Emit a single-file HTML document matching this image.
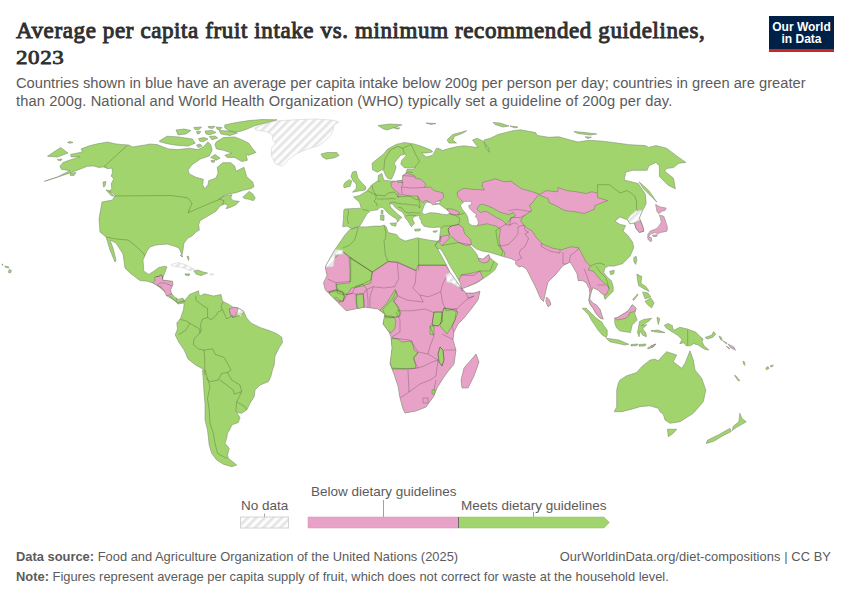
<!DOCTYPE html>
<html><head><meta charset="utf-8">
<style>
html,body{margin:0;padding:0;background:#fff;}
body{width:850px;height:600px;position:relative;overflow:hidden;font-family:"Liberation Sans",sans-serif;}
.t{position:absolute;white-space:nowrap;}
#title{left:16px;top:17.5px;font-family:"Liberation Serif",serif;font-weight:normal;font-size:23px;line-height:26px;color:#2f2f2f;-webkit-text-stroke:0.95px #2f2f2f;letter-spacing:0.61px;}
#title .yr{display:inline-block;transform:scaleY(0.8);transform-origin:0 80%;}
.sub{font-size:14.7px;line-height:17.7px;color:#5b5b5b;}
#logo{position:absolute;left:769px;top:16px;width:65px;height:33px;background:#002147;border-bottom:3px solid #ce261e;color:#fff;font-weight:bold;font-size:12px;line-height:12px;text-align:center;}
.foot{font-size:12.9px;line-height:16px;color:#5b5b5b;}
.foot b{color:#5b5b5b;}
.leg{font-size:13.5px;line-height:16px;color:#5b5b5b;}
</style></head><body>
<div class="t" id="title">Average per capita fruit intake vs. minimum recommended guidelines,<br><span class="yr">2023</span></div>
<div class="t sub" style="left:16px;top:74.7px">Countries shown in blue have an average per capita intake below 200g per person per day; countries in green are greater</div>
<div class="t sub" style="left:16px;top:92.6px;letter-spacing:0.105px">than 200g. National and World Health Organization (WHO) typically set a guideline of 200g per day.</div>
<div id="logo"><div style="padding-top:5px">Our World<br>in Data</div></div>

<svg style="position:absolute;left:0;top:0" width="850" height="600" viewBox="0 0 850 600">
<defs>
<pattern id="hatch" patternUnits="userSpaceOnUse" width="6" height="6" patternTransform="rotate(45)">
<rect width="6" height="6" fill="#fdfdfd"/><rect x="0" y="0" width="2.6" height="6" fill="#e4e4e4"/>
</pattern>
</defs>
<g id="map" stroke="#7b8a6b" stroke-width="0.5" stroke-linejoin="round">
<clipPath id="landclip"><path d="M47.5 156.2 60.6 147.5 68.0 153.0 57.5 157.0ZM67.5 142.5 70.0 141.5 73.0 142.5 70.0 143.2ZM57.5 159.5 62.0 159.0 61.0 160.6 58.0 160.3ZM70.0 173.5 76.0 172.5 74.0 175.5 70.5 175.6ZM103.0 182.0 106.0 181.5 105.0 186.0 103.5 187.0ZM106.0 190.0 109.0 190.5 114.0 196.0 111.0 195.5ZM44.4 181.3 57.5 176.9 70.0 170.5 61.5 169.4 60.0 166.2 63.0 162.5 70.0 160.0 80.0 156.9 71.2 156.9 70.6 154.4 80.0 152.5 82.5 151.9 81.2 148.8 90.0 145.6 97.5 143.8 107.5 142.1 115.0 143.8 120.0 144.4 128.8 145.0 132.5 146.9 145.0 145.0 150.0 144.0 157.0 144.6 168.4 148.9 178.2 149.6 189.5 148.2 198.0 149.6 203.7 146.8 207.9 141.8 210.7 144.6 212.1 150.3 209.3 156.0 200.8 158.8 192.0 164.7 188.0 170.0 189.3 174.0 196.0 177.3 203.3 179.3 202.7 184.7 204.7 188.7 208.0 184.7 208.7 180.7 216.0 178.0 218.0 173.3 217.3 167.3 222.7 162.7 230.7 162.7 234.7 166.0 236.0 171.3 244.0 167.3 246.7 176.7 252.7 182.0 254.0 186.7 250.7 188.7 244.0 190.0 236.0 192.7 225.3 194.7 218.7 199.3 224.0 196.0 232.0 194.7 230.7 198.0 233.3 200.7 239.3 201.3 236.0 204.7 230.7 207.3 226.0 208.7 228.0 205.3 224.7 204.0 220.0 206.0 216.0 211.3 206.7 216.7 200.0 220.7 198.7 224.7 199.3 230.0 196.0 232.0 192.0 236.0 188.0 238.0 184.0 243.0 183.0 250.0 182.0 255.0 179.0 248.0 174.0 246.0 167.0 244.0 156.0 245.0 150.0 247.0 147.0 251.0 143.0 260.0 143.8 271.2 148.8 274.4 153.8 271.2 158.8 267.5 164.4 266.2 166.9 266.9 164.4 273.8 163.1 276.9 162.5 280.0 172.5 281.2 173.0 284.4 170.6 290.0 171.2 293.0 175.0 297.5 178.8 299.4 182.5 298.0 185.0 301.2 177.5 302.5 174.4 300.6 171.9 298.8 166.2 295.6 165.6 293.0 160.0 287.5 156.2 285.0 152.5 283.0 147.5 281.2 140.0 280.6 130.0 273.0 125.0 268.0 123.0 254.0 116.0 243.0 110.0 240.0 113.0 248.0 116.0 260.0 115.0 262.0 110.0 250.0 107.0 240.0 106.0 237.0 100.0 232.0 99.0 219.0 102.0 202.0 112.5 200.0 115.0 195.6 113.1 193.1 108.8 191.2 111.9 188.8 111.2 183.8 113.8 178.8 111.2 176.2 112.5 172.5 111.9 168.1 108.0 168.8 103.8 166.9 98.8 167.5 93.8 166.0 87.5 166.2 81.0 168.8 70.0 173.0 55.0 178.0ZM242.7 197.3 249.3 191.3 252.7 194.0 255.3 198.0 253.3 200.7 249.3 199.3 245.3 198.7ZM159.2 141.1 167.0 136.2 178.2 136.9 192.4 139.0 195.2 143.2 188.1 146.1 178.2 145.4 168.4 144.0 159.9 141.8ZM176.0 130.0 184.0 129.0 191.0 130.5 186.0 134.0 178.0 134.8ZM219.0 130.5 230.0 131.0 237.5 133.0 230.0 135.5 221.0 134.0ZM193.8 127.5 201.5 127.0 199.0 129.8 195.0 129.5ZM205.0 131.0 212.0 130.5 216.0 132.5 210.0 134.8 206.0 134.0ZM208.0 126.5 215.0 126.3 213.0 128.4 209.0 128.0ZM198.7 138.5 204.0 137.6 208.0 139.0 203.0 141.8 199.5 141.0ZM196.6 145.0 200.0 144.0 202.2 146.0 198.0 147.5ZM209.3 136.5 215.0 136.0 217.8 138.0 212.0 139.7ZM216.4 141.8 223.4 137.6 234.7 136.9 241.8 139.7 248.8 143.2 251.7 147.5 255.9 152.4 248.8 155.2 246.0 154.5 247.4 160.2 241.8 161.6 234.7 157.4 227.0 157.4 224.8 155.2 231.9 153.1 223.4 150.3 216.4 148.9 215.0 144.6ZM224.8 124.9 234.7 122.8 248.8 120.6 262.0 119.5 277.0 119.8 267.0 122.6 254.5 125.8 245.9 129.6 240.0 131.4 234.7 132.0 229.0 130.5 224.8 128.0ZM210.7 157.4 215.0 154.5 220.0 158.0 216.4 160.2ZM321.0 154.0 327.0 152.5 336.8 152.5 339.0 155.5 334.5 157.8 326.2 159.2 322.5 157.0ZM185.0 273.8 190.0 274.0 189.0 275.6 185.5 275.2ZM193.8 271.0 198.0 270.0 203.0 272.0 207.5 273.0 201.0 275.6 196.0 274.0ZM180.0 255.0 183.0 256.0 182.0 257.0ZM187.0 256.0 189.0 257.0 188.5 260.6ZM9.0 269.5 11.5 270.5 10.5 273.0 8.5 272.5ZM2.0 264.0 3.0 264.3 2.5 265.5ZM5.0 266.0 9.0 267.0 8.5 268.0 5.0 267.0ZM170.0 296.0 177.5 302.8 184.2 301.2 189.5 294.5 198.5 290.8 199.2 295.2 200.0 296.0 204.5 293.8 213.5 296.0 221.0 294.5 222.5 301.2 228.5 304.2 233.0 307.2 238.2 308.0 243.5 311.0 246.5 317.8 251.0 323.0 260.0 327.5 269.0 330.5 276.5 333.5 281.8 337.2 282.5 342.5 279.5 347.0 275.0 356.0 274.2 365.0 272.5 370.0 270.8 376.7 268.3 381.7 260.0 385.0 255.0 390.0 254.2 396.7 250.0 403.3 246.7 410.0 241.7 413.3 236.7 412.5 240.0 417.5 238.3 422.5 231.7 425.0 230.0 429.2 227.5 433.3 226.7 438.3 225.0 443.3 229.2 448.3 227.5 455.0 228.3 458.3 236.7 465.0 231.7 466.7 223.3 464.2 216.7 460.0 211.7 453.3 209.2 445.0 208.3 436.7 207.5 430.0 205.0 420.0 205.0 403.3 204.2 395.0 203.3 380.0 202.5 370.0 203.8 369.5 195.5 365.0 188.0 359.0 184.2 350.0 179.0 342.5 175.2 335.0 177.5 329.0 176.8 323.0 180.5 318.5 183.5 309.5 184.2 303.0 178.0 304.0ZM351.9 228.9 347.0 226.1 342.7 226.8 343.4 219.8 343.8 210.5 344.5 209.0 361.0 208.2 361.0 207.5 359.5 202.2 353.5 197.0 359.5 195.5 367.0 191.0 371.5 185.0 376.0 182.0 378.2 180.5 378.2 175.5 381.9 173.6 383.8 180.2 391.4 181.1 396.1 181.1 402.6 180.2 402.6 175.5 405.5 173.6 406.4 171.7 407.3 168.9 413.9 168.9 415.8 167.5 409.2 167.5 404.5 167.9 400.8 164.2 401.7 160.4 406.4 155.2 404.5 154.3 400.8 155.2 397.0 159.5 394.2 163.2 396.1 167.0 395.1 170.8 393.2 175.5 391.4 179.2 387.6 178.3 385.7 175.5 383.8 170.8 381.9 169.8 377.2 172.2 372.5 169.8 372.1 163.2 379.1 157.6 383.8 153.8 387.6 149.1 396.1 144.4 404.5 142.5 413.9 143.9 421.5 146.3 430.9 150.0 432.7 151.9 427.0 153.0 421.5 152.9 426.2 157.1 432.7 155.2 436.5 148.2 440.3 149.1 442.4 150.5 448.9 148.6 456.5 146.7 464.0 145.8 471.5 146.7 478.1 147.6 472.5 140.1 477.2 138.2 482.8 141.0 488.5 147.6 489.4 152.3 485.6 147.6 483.8 140.1 490.4 138.2 497.9 134.5 512.9 130.7 520.5 129.8 535.5 132.6 537.4 135.4 548.7 137.3 558.8 136.8 571.2 140.3 578.2 142.0 588.8 140.3 603.0 141.2 617.0 143.0 629.4 144.7 645.3 145.6 648.8 147.4 655.9 145.6 666.5 148.2 677.1 156.2 685.9 162.4 678.8 163.2 673.5 167.6 666.5 168.5 664.7 171.2 673.5 178.2 675.3 188.8 668.2 185.3 659.4 176.5 659.4 165.9 655.9 162.4 648.8 165.9 647.1 170.3 633.0 170.3 625.9 172.1 624.1 180.0 631.2 181.8 638.2 183.5 645.3 194.1 646.2 203.0 645.6 205.0 642.5 210.6 639.4 218.0 640.5 220.5 643.1 227.5 643.8 231.2 639.4 232.5 636.2 228.8 634.4 223.1 630.0 223.8 627.5 220.0 620.0 216.9 615.0 221.2 620.0 224.4 625.6 225.6 623.1 231.2 627.5 235.0 632.5 241.9 633.8 247.5 630.0 256.2 622.5 263.8 620.2 264.3 614.3 266.1 608.5 266.1 605.0 267.8 603.8 272.5 607.3 277.2 611.4 280.7 613.2 286.5 613.2 291.2 609.7 294.7 605.0 299.3 603.8 294.7 601.5 293.5 598.0 290.0 595.1 288.8 592.8 287.7 591.6 291.2 590.4 295.3 589.8 299.3 592.8 302.8 596.8 305.2 600.3 309.8 602.1 315.7 603.3 319.2 599.8 318.0 595.7 313.3 593.3 308.7 589.8 304.0 588.7 300.5 589.8 293.5 589.3 288.8 586.3 283.0 582.5 280.5 578.2 280.7 577.0 273.7 572.3 265.5 570.0 262.0 568.2 263.2 563.0 265.5 557.0 273.0 548.0 282.0 546.5 288.0 543.5 301.5 540.5 298.5 536.0 288.0 531.5 279.0 527.0 270.0 525.5 268.5 522.0 266.0 519.0 267.0 515.5 264.0 516.0 261.0 513.0 259.5 509.0 258.0 503.1 256.5 489.3 252.2 483.0 251.2 476.6 249.1 471.3 244.8 469.7 245.4 475.5 252.2 477.1 254.9 478.2 258.1 483.0 259.1 486.1 256.5 488.8 254.4 489.8 257.5 493.5 260.7 497.8 263.9 494.6 270.2 489.3 274.5 483.0 278.7 476.6 283.0 469.2 286.1 461.8 288.8 460.2 282.9 455.4 274.5 450.1 266.0 446.9 259.7 442.7 252.2 440.0 248.5 437.9 249.1 435.3 245.4 438.0 241.1 439.5 239.2 439.9 234.5 440.9 228.9 439.9 227.0 433.3 227.5 427.7 227.0 423.9 226.1 421.6 223.2 421.1 220.4 419.2 217.6 420.2 215.2 418.3 215.7 413.6 216.6 412.6 219.5 414.5 223.2 411.3 226.8 409.1 223.1 407.5 220.4 405.4 218.3 404.3 215.1 402.2 211.9 399.0 210.3 395.3 207.6 392.6 203.9 391.0 203.9 389.4 204.4 391.0 207.6 394.2 210.8 397.4 214.0 401.7 217.2 401.1 218.3 398.5 218.3 399.5 219.9 398.5 220.9 396.9 222.5 397.4 220.4 396.3 218.8 393.7 217.2 390.5 215.1 387.3 212.4 384.6 209.2 383.0 207.6 380.3 207.3 377.3 209.9 371.0 210.6 366.7 214.1 363.9 219.1 359.7 226.1ZM352.5 172.0 356.2 171.2 357.8 178.0 361.5 182.5 366.0 187.0 365.2 190.0 360.0 190.8 352.5 192.2 356.2 188.5 356.2 184.0 353.2 181.0 351.0 176.5ZM345.0 182.5 349.5 179.5 351.8 181.0 350.2 186.2 344.2 187.8 343.5 185.5ZM378.0 125.5 390.0 124.0 402.0 124.8 396.0 127.0 387.0 130.0 382.5 128.5ZM393.8 127.8 399.8 128.0 398.0 129.2ZM447.0 140.1 452.7 134.5 466.8 130.7 462.1 133.5 454.6 136.3 452.7 140.1 456.5 143.0 449.0 143.0ZM493.0 122.5 500.0 123.0 509.0 126.0 503.0 127.0 495.0 124.5ZM510.0 126.0 518.0 127.0 515.0 128.0ZM426.0 123.0 436.0 123.5 431.0 124.5ZM573.8 131.5 585.0 132.5 596.8 134.0 590.0 135.0 578.0 133.5ZM585.0 136.8 591.5 137.2 588.0 138.5ZM639.1 181.8 648.8 190.6 656.8 202.0 652.4 197.7 643.5 188.8ZM380.5 215.0 384.0 215.2 384.0 220.4 380.6 220.0ZM381.2 210.3 383.0 210.5 382.8 214.0 381.0 213.6ZM390.0 223.2 396.3 223.0 395.8 226.3 391.5 225.3ZM414.7 229.2 420.4 228.9 420.0 230.8 415.0 231.1ZM433.0 231.0 437.5 230.8 436.0 232.2 433.5 232.2ZM633.8 257.5 636.2 256.2 636.9 260.6 635.6 264.4 633.8 261.2ZM609.7 271.3 614.3 270.2 613.8 273.7 610.8 274.8ZM435.3 245.4 438.0 241.1 436.2 241.1 429.6 240.2 424.0 239.2 417.4 237.8 405.1 241.1 399.5 238.3 396.6 234.5 388.2 232.6 386.3 227.0 384.4 225.1 380.6 226.1 375.0 226.1 365.5 227.0 358.5 226.8 349.8 229.4 344.5 235.5 341.0 240.8 334.9 249.5 327.0 263.5 325.2 267.0 327.0 275.8 323.5 282.8 325.2 289.8 330.5 295.0 334.0 298.5 339.2 303.8 346.2 310.8 355.0 309.0 365.5 307.2 377.8 309.0 384.8 314.2 383.0 324.0 389.0 332.0 391.0 337.0 392.0 348.0 390.0 364.0 394.0 374.0 398.0 386.0 400.0 398.0 403.0 409.0 405.0 413.0 416.0 411.0 426.0 407.0 434.0 396.0 437.0 388.0 442.0 380.0 446.0 374.0 454.0 364.0 456.0 350.0 453.0 340.0 454.0 332.0 458.0 324.0 464.0 318.0 472.0 308.0 478.0 300.0 480.0 291.2 474.0 293.0 466.0 293.0 460.7 287.2 455.4 279.8 450.1 272.4 445.9 263.9 441.6 256.0 438.0 249.6ZM582.2 308.3 586.3 308.3 591.3 313.3 595.5 317.5 602.2 322.5 603.8 325.8 607.2 330.0 607.2 335.0 606.3 337.5 602.2 335.0 598.0 330.0 594.7 325.0 591.3 320.0 588.8 315.0 584.7 310.8ZM606.3 338.3 613.0 339.2 618.8 340.0 624.7 342.5 628.8 344.2 624.7 345.0 617.2 343.3 609.7 341.7ZM631.0 344.5 638.0 344.0 637.0 345.5 631.0 346.0ZM639.0 344.5 646.0 344.0 645.0 346.0 639.0 346.2ZM647.5 348.0 652.0 345.5 655.8 344.0 653.0 347.0 648.0 349.0ZM614.7 317.9 617.2 317.5 621.3 315.0 625.5 312.5 628.8 310.0 632.2 304.6 636.3 308.3 634.7 313.3 637.2 320.0 632.2 325.0 630.5 332.5 624.7 331.7 619.7 330.8 616.3 327.5 614.7 322.5ZM638.0 330.0 639.5 321.5 643.8 319.4 651.7 318.3 649.1 321.0 641.6 325.7 646.9 324.6 642.7 328.9 645.9 333.1 646.4 336.8 642.7 335.2 640.1 331.0 639.0 336.8 637.4 332.1ZM657.0 317.2 659.7 318.5 658.5 324.6 657.5 321.0ZM636.8 274.1 641.8 276.6 640.9 283.2 645.9 286.5 649.2 291.4 644.2 288.9 638.5 285.6 637.6 279.9ZM645.0 301.3 650.8 298.0 654.1 302.9 651.6 307.9 647.5 304.6ZM642.6 292.0 648.0 293.0 650.8 297.0 645.0 298.8ZM632.7 299.6 637.6 293.9 638.0 295.0 633.5 300.5ZM664.4 325.2 668.1 323.6 672.4 325.7 672.9 328.9 674.5 330.0 679.8 327.3 687.2 328.9 695.7 332.1 699.9 336.3 703.1 339.0 702.0 341.6 704.1 345.8 708.9 350.1 704.1 349.0 697.8 344.8 693.5 343.7 690.4 345.8 686.1 345.8 684.0 342.7 679.8 343.7 681.9 339.5 677.7 335.2 672.4 332.1 669.2 329.9 666.0 327.8ZM705.2 337.4 711.5 335.2 713.7 331.5 715.8 334.2 712.6 337.4 707.3 339.0ZM719.0 336.0 721.0 337.0 722.5 340.6 720.5 339.5ZM620.0 380.0 626.7 375.8 636.7 372.5 641.7 366.7 650.0 360.0 655.0 359.2 658.3 360.8 663.3 355.0 666.7 351.7 676.7 355.0 673.3 361.7 681.7 368.3 685.0 363.3 690.0 350.8 693.3 360.0 695.0 370.0 701.7 378.3 705.8 390.0 703.3 401.7 693.3 413.3 680.0 421.7 670.0 423.3 665.0 420.0 663.3 414.2 660.0 411.7 658.3 408.3 650.0 405.8 640.0 406.7 631.7 409.2 621.7 411.7 614.2 411.7 616.7 406.7 616.7 398.3 616.7 390.0 618.3 383.3ZM667.5 429.2 676.7 429.2 673.3 433.3 668.3 436.7ZM739.8 413.2 742.0 418.6 746.3 421.8 736.6 427.3 732.3 430.5 733.3 426.2 738.8 421.8 739.4 417.5ZM730.0 428.4 731.2 431.6 722.5 435.9 713.8 441.3 706.3 443.5 707.3 440.3 718.2 434.9 727.9 429.4ZM734.4 375.3 736.0 376.0 739.8 380.7 738.0 380.5ZM743.0 361.0 744.5 362.0 745.0 365.5 743.5 364.0ZM765.8 368.0 768.0 366.5 769.0 368.5 766.5 369.8ZM770.0 366.0 773.4 365.0 772.0 367.0ZM196.6 131.2 200.8 131.5 199.0 134.0 197.0 133.5ZM216.4 127.0 222.0 127.5 220.0 129.8 217.0 129.2ZM211.0 160.5 215.0 160.5 214.0 162.5 211.5 162.0ZM653.3 330.5 658.0 330.0 665.0 332.6 660.0 332.4 654.0 331.8ZM651.0 330.5 653.0 330.2 652.5 332.0ZM229.2 308.8 234.5 307.2 238.2 308.0 237.5 311.0 233.8 317.8 231.5 316.2 230.0 313.2ZM655.6 204.4 660.0 206.9 666.2 208.1 665.0 210.6 661.9 211.2 658.8 213.8 656.9 211.2 656.2 207.5ZM659.4 215.0 663.8 216.2 665.6 221.2 667.5 227.5 666.9 231.2 663.8 231.9 660.6 232.5 657.5 233.8 655.0 232.5 651.2 233.8 648.8 236.2 647.5 235.0 650.0 231.2 656.2 228.8 658.8 226.2 661.2 222.5 660.6 218.8ZM647.5 236.2 651.2 237.5 651.9 240.6 650.6 241.9 648.1 239.4ZM546.5 297.0 549.5 300.0 551.0 304.5 548.0 306.8 545.8 301.5ZM476.0 354.0 479.0 362.0 474.0 376.0 468.0 388.0 462.0 388.0 461.0 380.0 464.0 368.0 471.0 360.0ZM651.0 346.0 655.8 344.0 653.5 346.8 651.5 347.5ZM723.0 341.0 727.0 343.0 726.5 344.0ZM728.0 344.0 734.0 347.0 735.5 350.3 731.0 348.0ZM726.0 346.0 730.0 348.5 729.0 349.0ZM634.4 223.1 640.5 220.5 643.1 227.5 643.8 231.2 639.4 232.5 636.2 228.8ZM652.5 235.2 657.5 234.8 656.5 236.5 653.0 236.4Z"/></clipPath>
<path fill="#a1d46c" stroke="none" d="M47.5 156.2 60.6 147.5 68.0 153.0 57.5 157.0ZM67.5 142.5 70.0 141.5 73.0 142.5 70.0 143.2ZM57.5 159.5 62.0 159.0 61.0 160.6 58.0 160.3ZM70.0 173.5 76.0 172.5 74.0 175.5 70.5 175.6ZM103.0 182.0 106.0 181.5 105.0 186.0 103.5 187.0ZM106.0 190.0 109.0 190.5 114.0 196.0 111.0 195.5ZM44.4 181.3 57.5 176.9 70.0 170.5 61.5 169.4 60.0 166.2 63.0 162.5 70.0 160.0 80.0 156.9 71.2 156.9 70.6 154.4 80.0 152.5 82.5 151.9 81.2 148.8 90.0 145.6 97.5 143.8 107.5 142.1 115.0 143.8 120.0 144.4 128.8 145.0 132.5 146.9 145.0 145.0 150.0 144.0 157.0 144.6 168.4 148.9 178.2 149.6 189.5 148.2 198.0 149.6 203.7 146.8 207.9 141.8 210.7 144.6 212.1 150.3 209.3 156.0 200.8 158.8 192.0 164.7 188.0 170.0 189.3 174.0 196.0 177.3 203.3 179.3 202.7 184.7 204.7 188.7 208.0 184.7 208.7 180.7 216.0 178.0 218.0 173.3 217.3 167.3 222.7 162.7 230.7 162.7 234.7 166.0 236.0 171.3 244.0 167.3 246.7 176.7 252.7 182.0 254.0 186.7 250.7 188.7 244.0 190.0 236.0 192.7 225.3 194.7 218.7 199.3 224.0 196.0 232.0 194.7 230.7 198.0 233.3 200.7 239.3 201.3 236.0 204.7 230.7 207.3 226.0 208.7 228.0 205.3 224.7 204.0 220.0 206.0 216.0 211.3 206.7 216.7 200.0 220.7 198.7 224.7 199.3 230.0 196.0 232.0 192.0 236.0 188.0 238.0 184.0 243.0 183.0 250.0 182.0 255.0 179.0 248.0 174.0 246.0 167.0 244.0 156.0 245.0 150.0 247.0 147.0 251.0 143.0 260.0 143.8 271.2 148.8 274.4 153.8 271.2 158.8 267.5 164.4 266.2 166.9 266.9 164.4 273.8 163.1 276.9 162.5 280.0 172.5 281.2 173.0 284.4 170.6 290.0 171.2 293.0 175.0 297.5 178.8 299.4 182.5 298.0 185.0 301.2 177.5 302.5 174.4 300.6 171.9 298.8 166.2 295.6 165.6 293.0 160.0 287.5 156.2 285.0 152.5 283.0 147.5 281.2 140.0 280.6 130.0 273.0 125.0 268.0 123.0 254.0 116.0 243.0 110.0 240.0 113.0 248.0 116.0 260.0 115.0 262.0 110.0 250.0 107.0 240.0 106.0 237.0 100.0 232.0 99.0 219.0 102.0 202.0 112.5 200.0 115.0 195.6 113.1 193.1 108.8 191.2 111.9 188.8 111.2 183.8 113.8 178.8 111.2 176.2 112.5 172.5 111.9 168.1 108.0 168.8 103.8 166.9 98.8 167.5 93.8 166.0 87.5 166.2 81.0 168.8 70.0 173.0 55.0 178.0ZM242.7 197.3 249.3 191.3 252.7 194.0 255.3 198.0 253.3 200.7 249.3 199.3 245.3 198.7ZM159.2 141.1 167.0 136.2 178.2 136.9 192.4 139.0 195.2 143.2 188.1 146.1 178.2 145.4 168.4 144.0 159.9 141.8ZM176.0 130.0 184.0 129.0 191.0 130.5 186.0 134.0 178.0 134.8ZM219.0 130.5 230.0 131.0 237.5 133.0 230.0 135.5 221.0 134.0ZM193.8 127.5 201.5 127.0 199.0 129.8 195.0 129.5ZM205.0 131.0 212.0 130.5 216.0 132.5 210.0 134.8 206.0 134.0ZM208.0 126.5 215.0 126.3 213.0 128.4 209.0 128.0ZM198.7 138.5 204.0 137.6 208.0 139.0 203.0 141.8 199.5 141.0ZM196.6 145.0 200.0 144.0 202.2 146.0 198.0 147.5ZM209.3 136.5 215.0 136.0 217.8 138.0 212.0 139.7ZM216.4 141.8 223.4 137.6 234.7 136.9 241.8 139.7 248.8 143.2 251.7 147.5 255.9 152.4 248.8 155.2 246.0 154.5 247.4 160.2 241.8 161.6 234.7 157.4 227.0 157.4 224.8 155.2 231.9 153.1 223.4 150.3 216.4 148.9 215.0 144.6ZM224.8 124.9 234.7 122.8 248.8 120.6 262.0 119.5 277.0 119.8 267.0 122.6 254.5 125.8 245.9 129.6 240.0 131.4 234.7 132.0 229.0 130.5 224.8 128.0ZM210.7 157.4 215.0 154.5 220.0 158.0 216.4 160.2ZM321.0 154.0 327.0 152.5 336.8 152.5 339.0 155.5 334.5 157.8 326.2 159.2 322.5 157.0ZM185.0 273.8 190.0 274.0 189.0 275.6 185.5 275.2ZM193.8 271.0 198.0 270.0 203.0 272.0 207.5 273.0 201.0 275.6 196.0 274.0ZM180.0 255.0 183.0 256.0 182.0 257.0ZM187.0 256.0 189.0 257.0 188.5 260.6ZM9.0 269.5 11.5 270.5 10.5 273.0 8.5 272.5ZM2.0 264.0 3.0 264.3 2.5 265.5ZM5.0 266.0 9.0 267.0 8.5 268.0 5.0 267.0ZM170.0 296.0 177.5 302.8 184.2 301.2 189.5 294.5 198.5 290.8 199.2 295.2 200.0 296.0 204.5 293.8 213.5 296.0 221.0 294.5 222.5 301.2 228.5 304.2 233.0 307.2 238.2 308.0 243.5 311.0 246.5 317.8 251.0 323.0 260.0 327.5 269.0 330.5 276.5 333.5 281.8 337.2 282.5 342.5 279.5 347.0 275.0 356.0 274.2 365.0 272.5 370.0 270.8 376.7 268.3 381.7 260.0 385.0 255.0 390.0 254.2 396.7 250.0 403.3 246.7 410.0 241.7 413.3 236.7 412.5 240.0 417.5 238.3 422.5 231.7 425.0 230.0 429.2 227.5 433.3 226.7 438.3 225.0 443.3 229.2 448.3 227.5 455.0 228.3 458.3 236.7 465.0 231.7 466.7 223.3 464.2 216.7 460.0 211.7 453.3 209.2 445.0 208.3 436.7 207.5 430.0 205.0 420.0 205.0 403.3 204.2 395.0 203.3 380.0 202.5 370.0 203.8 369.5 195.5 365.0 188.0 359.0 184.2 350.0 179.0 342.5 175.2 335.0 177.5 329.0 176.8 323.0 180.5 318.5 183.5 309.5 184.2 303.0 178.0 304.0ZM351.9 228.9 347.0 226.1 342.7 226.8 343.4 219.8 343.8 210.5 344.5 209.0 361.0 208.2 361.0 207.5 359.5 202.2 353.5 197.0 359.5 195.5 367.0 191.0 371.5 185.0 376.0 182.0 378.2 180.5 378.2 175.5 381.9 173.6 383.8 180.2 391.4 181.1 396.1 181.1 402.6 180.2 402.6 175.5 405.5 173.6 406.4 171.7 407.3 168.9 413.9 168.9 415.8 167.5 409.2 167.5 404.5 167.9 400.8 164.2 401.7 160.4 406.4 155.2 404.5 154.3 400.8 155.2 397.0 159.5 394.2 163.2 396.1 167.0 395.1 170.8 393.2 175.5 391.4 179.2 387.6 178.3 385.7 175.5 383.8 170.8 381.9 169.8 377.2 172.2 372.5 169.8 372.1 163.2 379.1 157.6 383.8 153.8 387.6 149.1 396.1 144.4 404.5 142.5 413.9 143.9 421.5 146.3 430.9 150.0 432.7 151.9 427.0 153.0 421.5 152.9 426.2 157.1 432.7 155.2 436.5 148.2 440.3 149.1 442.4 150.5 448.9 148.6 456.5 146.7 464.0 145.8 471.5 146.7 478.1 147.6 472.5 140.1 477.2 138.2 482.8 141.0 488.5 147.6 489.4 152.3 485.6 147.6 483.8 140.1 490.4 138.2 497.9 134.5 512.9 130.7 520.5 129.8 535.5 132.6 537.4 135.4 548.7 137.3 558.8 136.8 571.2 140.3 578.2 142.0 588.8 140.3 603.0 141.2 617.0 143.0 629.4 144.7 645.3 145.6 648.8 147.4 655.9 145.6 666.5 148.2 677.1 156.2 685.9 162.4 678.8 163.2 673.5 167.6 666.5 168.5 664.7 171.2 673.5 178.2 675.3 188.8 668.2 185.3 659.4 176.5 659.4 165.9 655.9 162.4 648.8 165.9 647.1 170.3 633.0 170.3 625.9 172.1 624.1 180.0 631.2 181.8 638.2 183.5 645.3 194.1 646.2 203.0 645.6 205.0 642.5 210.6 639.4 218.0 640.5 220.5 643.1 227.5 643.8 231.2 639.4 232.5 636.2 228.8 634.4 223.1 630.0 223.8 627.5 220.0 620.0 216.9 615.0 221.2 620.0 224.4 625.6 225.6 623.1 231.2 627.5 235.0 632.5 241.9 633.8 247.5 630.0 256.2 622.5 263.8 620.2 264.3 614.3 266.1 608.5 266.1 605.0 267.8 603.8 272.5 607.3 277.2 611.4 280.7 613.2 286.5 613.2 291.2 609.7 294.7 605.0 299.3 603.8 294.7 601.5 293.5 598.0 290.0 595.1 288.8 592.8 287.7 591.6 291.2 590.4 295.3 589.8 299.3 592.8 302.8 596.8 305.2 600.3 309.8 602.1 315.7 603.3 319.2 599.8 318.0 595.7 313.3 593.3 308.7 589.8 304.0 588.7 300.5 589.8 293.5 589.3 288.8 586.3 283.0 582.5 280.5 578.2 280.7 577.0 273.7 572.3 265.5 570.0 262.0 568.2 263.2 563.0 265.5 557.0 273.0 548.0 282.0 546.5 288.0 543.5 301.5 540.5 298.5 536.0 288.0 531.5 279.0 527.0 270.0 525.5 268.5 522.0 266.0 519.0 267.0 515.5 264.0 516.0 261.0 513.0 259.5 509.0 258.0 503.1 256.5 489.3 252.2 483.0 251.2 476.6 249.1 471.3 244.8 469.7 245.4 475.5 252.2 477.1 254.9 478.2 258.1 483.0 259.1 486.1 256.5 488.8 254.4 489.8 257.5 493.5 260.7 497.8 263.9 494.6 270.2 489.3 274.5 483.0 278.7 476.6 283.0 469.2 286.1 461.8 288.8 460.2 282.9 455.4 274.5 450.1 266.0 446.9 259.7 442.7 252.2 440.0 248.5 437.9 249.1 435.3 245.4 438.0 241.1 439.5 239.2 439.9 234.5 440.9 228.9 439.9 227.0 433.3 227.5 427.7 227.0 423.9 226.1 421.6 223.2 421.1 220.4 419.2 217.6 420.2 215.2 418.3 215.7 413.6 216.6 412.6 219.5 414.5 223.2 411.3 226.8 409.1 223.1 407.5 220.4 405.4 218.3 404.3 215.1 402.2 211.9 399.0 210.3 395.3 207.6 392.6 203.9 391.0 203.9 389.4 204.4 391.0 207.6 394.2 210.8 397.4 214.0 401.7 217.2 401.1 218.3 398.5 218.3 399.5 219.9 398.5 220.9 396.9 222.5 397.4 220.4 396.3 218.8 393.7 217.2 390.5 215.1 387.3 212.4 384.6 209.2 383.0 207.6 380.3 207.3 377.3 209.9 371.0 210.6 366.7 214.1 363.9 219.1 359.7 226.1ZM352.5 172.0 356.2 171.2 357.8 178.0 361.5 182.5 366.0 187.0 365.2 190.0 360.0 190.8 352.5 192.2 356.2 188.5 356.2 184.0 353.2 181.0 351.0 176.5ZM345.0 182.5 349.5 179.5 351.8 181.0 350.2 186.2 344.2 187.8 343.5 185.5ZM378.0 125.5 390.0 124.0 402.0 124.8 396.0 127.0 387.0 130.0 382.5 128.5ZM393.8 127.8 399.8 128.0 398.0 129.2ZM447.0 140.1 452.7 134.5 466.8 130.7 462.1 133.5 454.6 136.3 452.7 140.1 456.5 143.0 449.0 143.0ZM493.0 122.5 500.0 123.0 509.0 126.0 503.0 127.0 495.0 124.5ZM510.0 126.0 518.0 127.0 515.0 128.0ZM426.0 123.0 436.0 123.5 431.0 124.5ZM573.8 131.5 585.0 132.5 596.8 134.0 590.0 135.0 578.0 133.5ZM585.0 136.8 591.5 137.2 588.0 138.5ZM639.1 181.8 648.8 190.6 656.8 202.0 652.4 197.7 643.5 188.8ZM380.5 215.0 384.0 215.2 384.0 220.4 380.6 220.0ZM381.2 210.3 383.0 210.5 382.8 214.0 381.0 213.6ZM390.0 223.2 396.3 223.0 395.8 226.3 391.5 225.3ZM414.7 229.2 420.4 228.9 420.0 230.8 415.0 231.1ZM433.0 231.0 437.5 230.8 436.0 232.2 433.5 232.2ZM633.8 257.5 636.2 256.2 636.9 260.6 635.6 264.4 633.8 261.2ZM609.7 271.3 614.3 270.2 613.8 273.7 610.8 274.8ZM435.3 245.4 438.0 241.1 436.2 241.1 429.6 240.2 424.0 239.2 417.4 237.8 405.1 241.1 399.5 238.3 396.6 234.5 388.2 232.6 386.3 227.0 384.4 225.1 380.6 226.1 375.0 226.1 365.5 227.0 358.5 226.8 349.8 229.4 344.5 235.5 341.0 240.8 334.9 249.5 327.0 263.5 325.2 267.0 327.0 275.8 323.5 282.8 325.2 289.8 330.5 295.0 334.0 298.5 339.2 303.8 346.2 310.8 355.0 309.0 365.5 307.2 377.8 309.0 384.8 314.2 383.0 324.0 389.0 332.0 391.0 337.0 392.0 348.0 390.0 364.0 394.0 374.0 398.0 386.0 400.0 398.0 403.0 409.0 405.0 413.0 416.0 411.0 426.0 407.0 434.0 396.0 437.0 388.0 442.0 380.0 446.0 374.0 454.0 364.0 456.0 350.0 453.0 340.0 454.0 332.0 458.0 324.0 464.0 318.0 472.0 308.0 478.0 300.0 480.0 291.2 474.0 293.0 466.0 293.0 460.7 287.2 455.4 279.8 450.1 272.4 445.9 263.9 441.6 256.0 438.0 249.6ZM582.2 308.3 586.3 308.3 591.3 313.3 595.5 317.5 602.2 322.5 603.8 325.8 607.2 330.0 607.2 335.0 606.3 337.5 602.2 335.0 598.0 330.0 594.7 325.0 591.3 320.0 588.8 315.0 584.7 310.8ZM606.3 338.3 613.0 339.2 618.8 340.0 624.7 342.5 628.8 344.2 624.7 345.0 617.2 343.3 609.7 341.7ZM631.0 344.5 638.0 344.0 637.0 345.5 631.0 346.0ZM639.0 344.5 646.0 344.0 645.0 346.0 639.0 346.2ZM647.5 348.0 652.0 345.5 655.8 344.0 653.0 347.0 648.0 349.0ZM614.7 317.9 617.2 317.5 621.3 315.0 625.5 312.5 628.8 310.0 632.2 304.6 636.3 308.3 634.7 313.3 637.2 320.0 632.2 325.0 630.5 332.5 624.7 331.7 619.7 330.8 616.3 327.5 614.7 322.5ZM638.0 330.0 639.5 321.5 643.8 319.4 651.7 318.3 649.1 321.0 641.6 325.7 646.9 324.6 642.7 328.9 645.9 333.1 646.4 336.8 642.7 335.2 640.1 331.0 639.0 336.8 637.4 332.1ZM657.0 317.2 659.7 318.5 658.5 324.6 657.5 321.0ZM636.8 274.1 641.8 276.6 640.9 283.2 645.9 286.5 649.2 291.4 644.2 288.9 638.5 285.6 637.6 279.9ZM645.0 301.3 650.8 298.0 654.1 302.9 651.6 307.9 647.5 304.6ZM642.6 292.0 648.0 293.0 650.8 297.0 645.0 298.8ZM632.7 299.6 637.6 293.9 638.0 295.0 633.5 300.5ZM664.4 325.2 668.1 323.6 672.4 325.7 672.9 328.9 674.5 330.0 679.8 327.3 687.2 328.9 695.7 332.1 699.9 336.3 703.1 339.0 702.0 341.6 704.1 345.8 708.9 350.1 704.1 349.0 697.8 344.8 693.5 343.7 690.4 345.8 686.1 345.8 684.0 342.7 679.8 343.7 681.9 339.5 677.7 335.2 672.4 332.1 669.2 329.9 666.0 327.8ZM705.2 337.4 711.5 335.2 713.7 331.5 715.8 334.2 712.6 337.4 707.3 339.0ZM719.0 336.0 721.0 337.0 722.5 340.6 720.5 339.5ZM620.0 380.0 626.7 375.8 636.7 372.5 641.7 366.7 650.0 360.0 655.0 359.2 658.3 360.8 663.3 355.0 666.7 351.7 676.7 355.0 673.3 361.7 681.7 368.3 685.0 363.3 690.0 350.8 693.3 360.0 695.0 370.0 701.7 378.3 705.8 390.0 703.3 401.7 693.3 413.3 680.0 421.7 670.0 423.3 665.0 420.0 663.3 414.2 660.0 411.7 658.3 408.3 650.0 405.8 640.0 406.7 631.7 409.2 621.7 411.7 614.2 411.7 616.7 406.7 616.7 398.3 616.7 390.0 618.3 383.3ZM667.5 429.2 676.7 429.2 673.3 433.3 668.3 436.7ZM739.8 413.2 742.0 418.6 746.3 421.8 736.6 427.3 732.3 430.5 733.3 426.2 738.8 421.8 739.4 417.5ZM730.0 428.4 731.2 431.6 722.5 435.9 713.8 441.3 706.3 443.5 707.3 440.3 718.2 434.9 727.9 429.4ZM734.4 375.3 736.0 376.0 739.8 380.7 738.0 380.5ZM743.0 361.0 744.5 362.0 745.0 365.5 743.5 364.0ZM765.8 368.0 768.0 366.5 769.0 368.5 766.5 369.8ZM770.0 366.0 773.4 365.0 772.0 367.0ZM196.6 131.2 200.8 131.5 199.0 134.0 197.0 133.5ZM216.4 127.0 222.0 127.5 220.0 129.8 217.0 129.2ZM211.0 160.5 215.0 160.5 214.0 162.5 211.5 162.0ZM653.3 330.5 658.0 330.0 665.0 332.6 660.0 332.4 654.0 331.8ZM651.0 330.5 653.0 330.2 652.5 332.0Z"/>
<path fill="#e8a2c7" stroke="none" d="M229.2 308.8 234.5 307.2 238.2 308.0 237.5 311.0 233.8 317.8 231.5 316.2 230.0 313.2ZM655.6 204.4 660.0 206.9 666.2 208.1 665.0 210.6 661.9 211.2 658.8 213.8 656.9 211.2 656.2 207.5ZM659.4 215.0 663.8 216.2 665.6 221.2 667.5 227.5 666.9 231.2 663.8 231.9 660.6 232.5 657.5 233.8 655.0 232.5 651.2 233.8 648.8 236.2 647.5 235.0 650.0 231.2 656.2 228.8 658.8 226.2 661.2 222.5 660.6 218.8ZM647.5 236.2 651.2 237.5 651.9 240.6 650.6 241.9 648.1 239.4ZM546.5 297.0 549.5 300.0 551.0 304.5 548.0 306.8 545.8 301.5ZM476.0 354.0 479.0 362.0 474.0 376.0 468.0 388.0 462.0 388.0 461.0 380.0 464.0 368.0 471.0 360.0ZM651.0 346.0 655.8 344.0 653.5 346.8 651.5 347.5ZM723.0 341.0 727.0 343.0 726.5 344.0ZM728.0 344.0 734.0 347.0 735.5 350.3 731.0 348.0ZM726.0 346.0 730.0 348.5 729.0 349.0ZM634.4 223.1 640.5 220.5 643.1 227.5 643.8 231.2 639.4 232.5 636.2 228.8ZM652.5 235.2 657.5 234.8 656.5 236.5 653.0 236.4Z"/>
<path fill="#e8a2c7" stroke="#000" stroke-opacity="0.4" stroke-width="0.5" clip-path="url(#landclip)" d="M155.6 276.9 159.4 276.2 160.6 275.0 162.5 276.2 162.5 280.0 172.5 281.2 175.0 283.0 172.0 290.0 172.0 294.0 166.2 296.0 163.8 290.0 160.6 286.9 156.9 285.6 152.5 283.0 155.0 280.6 154.4 277.5ZM390.9 182.8 396.2 180.6 401.5 180.1 403.6 173.8 406.8 173.2 412.1 174.8 415.2 176.4 414.7 178.0 420.5 179.1 424.8 182.8 425.8 185.4 423.7 187.5 430.1 187.0 434.3 190.7 442.8 192.8 443.8 197.1 440.7 200.2 437.5 201.3 435.4 204.5 432.2 206.6 431.1 202.9 425.8 200.2 422.7 202.4 419.5 199.2 417.4 196.0 410.0 196.0 401.5 194.4 397.8 197.1 397.2 194.9 399.4 193.9 394.0 189.7 391.4 186.5ZM447.0 208.7 452.0 209.0 457.0 211.0 460.0 213.0 457.0 215.0 450.0 214.0ZM457.4 191.8 463.8 188.2 473.2 189.4 484.4 190.0 482.1 186.5 482.6 182.4 495.6 178.8 503.8 181.8 510.9 181.2 521.5 188.8 528.5 190.6 539.1 194.1 535.3 198.8 531.8 203.5 529.4 205.3 531.8 210.6 524.7 215.3 522.4 217.6 520.6 221.2 527.1 228.2 531.8 230.6 536.0 237.0 542.0 243.8 552.5 248.2 561.5 249.8 570.5 246.8 578.0 247.5 581.0 252.0 585.5 261.0 590.4 266.1 588.0 270.0 593.3 271.0 599.2 278.3 603.8 283.0 607.3 285.3 609.1 288.8 606.2 294.7 602.7 295.3 606.0 299.0 606.0 321.0 603.3 319.2 599.8 318.0 595.7 313.3 593.3 308.7 589.8 304.0 588.7 300.5 580.0 292.0 560.0 300.0 540.0 312.0 520.0 275.0 505.0 262.0 503.5 258.0 505.0 253.0 500.5 247.0 499.0 239.5 500.5 229.0 496.0 226.0 487.0 223.8 475.0 226.0 472.0 215.0 463.0 202.0 461.5 200.6 457.4 195.9ZM539.4 194.7 545.9 190.6 557.6 191.8 558.2 187.6 567.1 190.6 576.5 191.8 585.9 193.5 591.8 191.8 597.1 192.9 597.6 197.6 607.6 200.6 595.3 205.3 594.1 209.4 584.1 213.5 575.3 211.8 564.7 210.6 555.3 205.3 549.4 202.9 548.2 198.8 540.0 195.3ZM451.0 226.0 458.5 224.5 463.0 227.5 464.5 233.5 470.5 239.5 471.5 244.8 466.0 245.5 458.5 242.5 449.5 235.0 448.0 229.0ZM440.5 236.5 448.0 235.0 449.5 238.0 446.5 241.0 442.0 245.5 439.0 242.5ZM477.6 255.0 483.0 259.0 486.0 256.5 489.0 254.4 489.8 258.0 488.0 262.0 483.0 263.0 479.0 261.0ZM461.0 275.0 470.0 273.5 480.0 271.0 483.0 278.5 476.0 283.0 469.0 286.0 462.0 291.0 458.0 283.0ZM315.0 266.0 325.2 266.0 342.8 251.2 348.9 257.4 372.5 272.2 388.2 261.8 397.0 261.8 416.2 270.5 418.0 265.2 446.0 265.2 450.1 272.4 455.4 279.8 460.7 287.2 466.0 293.0 474.0 293.0 480.0 291.2 500.0 300.0 500.0 440.0 300.0 440.0 300.0 266.0ZM612.0 317.0 617.2 317.5 621.3 315.0 625.5 312.5 628.8 310.0 632.2 303.0 638.0 308.3 633.8 311.7 629.7 312.5 628.8 315.8 625.5 318.3 621.3 319.2 617.2 320.0 615.9 318.8 613.0 319.0Z"/>
<path fill="#a1d46c" stroke="#000" stroke-opacity="0.4" stroke-width="0.5" clip-path="url(#landclip)" d="M156.9 285.6 160.6 286.9 161.0 289.0 155.0 289.0 153.0 285.0ZM397.0 180.8 401.5 180.1 402.5 182.5 398.0 182.6ZM479.1 205.3 482.6 204.1 492.0 207.6 500.3 212.4 509.7 214.7 513.2 212.4 515.6 215.9 510.9 218.2 508.5 221.8 506.2 224.1 502.6 220.6 495.6 217.0 486.2 211.2 480.3 212.4 477.0 209.0ZM348.9 257.4 372.5 272.2 370.8 282.8 362.0 286.2 351.5 288.0 348.0 293.2 344.5 295.0 337.5 293.2 335.8 284.5 349.8 282.8 350.0 270.0ZM329.0 292.0 336.0 290.0 343.0 293.0 345.0 297.0 342.0 302.0 336.0 300.0 331.0 298.0ZM356.0 295.0 363.0 294.0 364.0 300.0 364.0 308.0 358.0 309.0 356.0 302.0ZM395.0 289.5 397.0 295.0 393.0 301.0 398.0 306.0 401.0 314.0 397.0 317.0 386.0 318.0 384.0 314.0 380.0 310.0 386.0 304.0 390.0 298.0ZM383.0 316.0 392.0 316.0 396.0 320.0 395.0 328.0 391.0 333.0 385.0 328.0 383.0 324.0ZM444.0 308.0 450.0 309.0 458.0 312.0 455.0 320.0 452.0 326.0 447.0 334.0 440.0 326.0 442.0 316.0ZM434.0 312.0 442.0 312.0 442.0 322.0 438.0 326.0 432.0 325.0 433.0 318.0ZM430.0 326.0 434.0 326.0 434.0 335.0 430.0 334.0ZM391.0 338.0 398.0 339.0 402.0 342.0 412.0 341.0 414.0 350.0 418.0 353.0 414.0 358.0 416.0 368.0 405.0 369.0 392.0 369.0 389.0 360.0 391.0 350.0ZM440.0 347.0 443.0 350.0 444.0 360.0 442.0 366.0 439.0 362.0 438.0 354.0ZM432.0 390.0 435.0 390.0 435.0 394.0 432.0 394.0Z"/>
<path fill="url(#hatch)" stroke="#dadada" stroke-width="0.7" d="M254.7 127.9 262.4 124.9 269.4 122.0 277.6 120.8 298.8 119.6 316.5 119.0 333.0 120.2 338.8 122.0 334.1 124.9 333.0 130.8 330.6 135.5 324.7 141.4 317.6 146.1 305.9 149.6 296.5 153.8 289.4 159.0 282.4 166.1 275.3 163.8 271.2 155.5 271.8 147.3 275.3 143.8 272.9 140.2 271.8 134.4 265.9 131.4 260.0 130.8 255.3 129.6ZM171.2 264.5 178.0 262.5 186.0 265.0 195.0 269.5 190.0 270.6 184.0 268.0 176.0 266.5 172.0 266.0ZM210.0 273.8 213.8 274.0 213.5 275.0 210.0 275.0ZM238.2 308.0 243.5 311.0 240.5 316.2 238.2 314.8 237.5 311.0ZM334.9 249.5 342.8 250.5 342.8 254.0 335.0 254.5 333.0 266.5 325.2 267.0 327.0 263.5ZM446.0 275.0 450.0 272.5 455.4 279.8 460.7 287.2 457.0 286.0 452.0 283.0 447.0 282.0ZM636.0 210.8 642.5 210.6 639.4 218.0 640.5 220.5 634.4 223.1 630.0 223.8 627.5 220.0 630.0 216.0 633.0 213.5Z"/>
<path fill="none" stroke="#000" stroke-opacity="0.4" stroke-width="0.5" clip-path="url(#landclip)" d="M127.5 145.2 104.4 166.2 108.0 169.0 112.0 172.0M114.0 196.0 171.0 195.5 180.0 196.7 188.0 198.0 192.0 203.3 188.0 212.7 197.3 208.7 206.7 204.7 214.7 201.3 220.0 199.3 224.0 200.7 222.7 204.7 224.0 207.3M106.0 237.0 116.0 239.0 128.0 240.0 132.0 243.0 138.0 248.0 144.0 254.0 145.0 256.0M155.6 276.9 159.4 276.2 160.6 275.0 162.5 276.2 162.5 280.0M156.9 285.6 160.0 283.0 165.0 283.0 172.0 286.0M170.5 293.0 175.0 294.0M176.0 297.5 177.0 301.0M183.0 299.0 184.5 302.0M195.5 295.6 196.2 300.6 204.0 306.3 207.6 308.4 207.6 317.6 202.6 319.0 200.5 324.7 201.2 330.4 199.8 333.2M207.6 317.6 211.1 319.7 215.4 316.2 218.2 311.9 222.5 309.8 221.0 306.3 223.9 300.6M222.5 309.8 226.7 319.0 232.4 315.5 232.4 317.0 238.0 316.2 243.7 312.7M229.2 308.8 230.0 313.2 231.5 316.2 233.8 317.8M177.1 319.0 185.6 320.5 189.9 323.3 185.6 330.4 178.5 334.6M189.9 323.3 199.8 329.0 199.8 333.2 194.1 338.9 193.4 344.6 198.4 348.8 204.0 350.2 212.5 348.8 215.4 354.5 223.9 357.3 228.1 364.4 231.0 370.0M204.0 350.2 204.7 358.7 204.7 370.0 205.0 375.0M205.0 370.0 210.0 386.7 207.5 398.3 209.2 410.0 210.0 423.3 213.3 433.3 215.0 443.3 217.5 453.3 225.0 457.5 227.5 458.3M206.0 378.0 210.0 381.7 218.3 380.0 221.7 373.3 227.5 372.5 231.7 380.0 240.0 385.0 241.7 391.7 234.2 394.2 233.3 390.0 226.7 385.0 220.0 380.0M231.0 370.0 227.5 372.5M241.7 391.7 236.7 401.7 245.0 406.7 246.7 410.0M236.7 401.7 235.8 411.7M342.7 248.0 349.3 245.3 354.7 240.0 358.0 228.0M343.3 252.0 350.7 257.3 372.0 272.0 388.0 261.3 397.3 262.7 416.0 270.7M384.0 240.0 385.3 254.7 388.0 261.3M384.5 226.0 386.0 234.0 385.0 240.0M418.7 239.0 418.7 270.7M418.7 265.2 446.0 265.2M350.7 257.3 350.7 281.3 336.0 282.7 328.0 279.3M336.0 282.7 337.3 289.3 330.7 291.3 326.0 292.0M337.3 289.3 342.7 292.0 346.7 294.7 352.0 293.3 354.7 288.0 362.7 284.0 370.7 280.0 372.0 272.0M329.3 292.7 337.3 290.7 342.7 292.0 344.0 296.0 343.3 301.3 340.0 300.7 336.7 297.3 332.7 298.7 329.3 296.0M340.0 300.7 338.0 305.0M343.3 301.3 346.7 294.7 352.0 293.3 356.0 294.0 356.7 298.7 356.7 308.0M354.7 286.7 362.7 284.0 366.7 289.3 364.0 293.3 356.0 294.0M363.3 294.0 364.0 304.0 364.0 309.0M366.7 289.3 368.0 300.0 368.0 309.0M373.3 286.7 370.0 296.0 370.0 309.0M366.7 289.3 373.3 286.7 384.0 288.0 394.7 286.7 398.7 278.7 397.3 262.7M396.0 290.7 398.0 296.0 394.0 301.3 398.7 309.3 400.0 316.7 392.0 317.3 385.3 316.0 382.7 309.3 386.7 305.3 392.7 298.7 396.0 290.7M416.2 270.5 415.4 282.8 412.8 288.0 419.8 295.0 423.2 302.0M419.8 295.0 428.5 296.8 435.5 294.1 440.8 291.5 442.5 284.5 446.0 277.5M440.8 291.5 442.5 302.0 446.0 310.8 456.5 309.0 466.0 300.0 474.0 296.0M398.0 296.0 407.5 300.2 423.2 302.0M397.0 310.8 411.0 310.8 425.0 309.0 433.8 312.5M396.0 312.0 400.0 320.0 400.0 332.0 392.0 337.0M392.0 338.0 410.0 340.0 414.0 346.0 418.0 352.0 428.0 354.0 430.0 346.0 434.0 336.0 430.0 326.0M390.0 368.0 410.0 369.0 418.0 368.0 424.0 366.0 432.0 362.0 438.0 360.0M418.0 352.0 413.0 358.0 418.0 368.0M408.0 370.0 409.0 392.0 400.0 398.0M409.0 392.0 420.0 384.0 430.0 380.0 436.0 376.0 438.0 360.0M436.0 380.0 434.0 390.0M444.0 350.0 456.0 350.0M442.0 334.0 454.0 340.0M434.0 312.0 442.0 312.0 442.0 322.0 438.0 326.0 432.0 325.0 433.0 318.0 434.0 312.0M442.0 312.0 444.0 308.0 450.0 309.0 456.5 309.0 455.0 320.0 452.0 326.0 454.0 333.0M440.0 347.0 443.0 350.0 444.0 360.0 442.0 366.0 439.0 362.0 438.0 354.0 440.0 347.0M423.0 398.0 428.0 398.0 428.0 403.0 423.0 403.0 423.0 398.0M428.0 354.0 438.0 360.0M466.0 293.0 468.0 298.0 474.0 296.0M362.2 209.5 368.6 210.5M348.0 209.5 348.5 213.0 347.0 218.0 348.5 224.0M366.5 190.4 372.0 193.0 376.0 195.0 376.0 199.0 374.0 201.0 377.0 204.0 377.0 206.3M372.0 185.0 373.0 190.0 376.0 195.0M378.0 181.0 380.2 181.4M376.0 195.0 385.0 196.0 388.0 193.0 394.0 192.0 397.0 194.9M377.0 199.0 385.0 199.0 392.0 198.5 396.0 199.0M397.0 197.0 404.0 196.5 410.0 196.0 415.0 199.0 419.0 200.0M389.0 203.0 393.0 202.0 397.0 203.0 402.0 204.0 406.0 204.0 412.0 205.0 417.0 205.0 420.0 208.0M398.0 207.0 402.0 208.0 405.0 212.0 409.0 213.0 412.0 212.0 415.0 213.0 420.0 213.0M406.0 216.0 410.0 215.0 416.0 215.5M412.0 146.3 415.8 154.8 419.6 161.4 414.9 167.0M383.8 169.8 384.8 159.5 390.4 150.0 397.9 146.3 402.6 148.2M402.6 148.2 404.5 153.8M406.4 171.7 413.0 172.5M403.0 175.5 414.0 176.4M401.5 187.0 412.0 188.0 423.7 187.5M401.5 180.1 403.0 184.0 401.5 187.0 402.0 194.0M417.4 196.0 419.0 200.0 420.0 208.0M440.9 228.9 443.5 226.0 451.0 226.0 458.5 224.5M449.5 235.0 448.0 229.0 451.0 226.0M442.0 245.5 458.5 242.5 470.5 244.8M461.0 275.0 473.5 275.5 480.0 271.0 490.0 271.0 494.5 260.5M458.5 224.5 460.0 218.5 455.5 215.5 450.0 214.0M457.0 215.0 462.0 214.0 466.0 212.0M439.5 239.2 441.0 236.5 440.5 242.0M435.3 245.4 438.0 241.1M525.0 230.3 528.5 232.1 525.0 233.8 528.5 238.5 525.0 246.6 520.3 250.1 519.2 253.6 521.5 258.3 516.8 260.6M501.7 246.1 508.7 244.3 513.3 239.6 518.0 233.8 518.0 226.8 523.8 225.1 525.0 230.3M495.8 230.3 505.2 224.5 509.2 225.1 514.5 222.7 518.0 224.5M508.7 210.5 516.8 209.3 530.8 211.7M541.3 243.1 541.3 246.6 550.6 251.3 560.0 253.0 560.0 250.1M563.0 252.0 563.0 264.0 569.0 264.0 570.5 255.0 573.5 253.5 579.5 247.5M584.0 268.5 587.0 276.0 590.0 285.0 591.6 291.2M597.5 285.0 605.0 285.0M590.4 266.1 595.0 264.0 600.0 263.0 605.0 265.0M596.0 266.0 600.0 272.0 606.0 278.0 609.1 288.8M597.6 192.9 597.6 184.7 609.4 184.7 620.0 192.9 627.6 190.6 634.7 195.9 636.5 201.2 636.5 208.2 637.5 211.2M687.7 329.4 687.7 346.4M495.8 230.3 497.0 238.5 498.2 244.9 501.7 246.1M498.2 244.9 502.8 251.3 501.0 256.6M511.0 217.5 520.3 217.5 524.7 215.3M509.8 225.7 511.0 217.5M402.6 148.2 411.1 144.4 412.0 146.3"/>
<path fill="none" stroke="#7d8a74" stroke-width="0.55" d="M47.5 156.2 60.6 147.5 68.0 153.0 57.5 157.0ZM67.5 142.5 70.0 141.5 73.0 142.5 70.0 143.2ZM57.5 159.5 62.0 159.0 61.0 160.6 58.0 160.3ZM70.0 173.5 76.0 172.5 74.0 175.5 70.5 175.6ZM103.0 182.0 106.0 181.5 105.0 186.0 103.5 187.0ZM106.0 190.0 109.0 190.5 114.0 196.0 111.0 195.5ZM44.4 181.3 57.5 176.9 70.0 170.5 61.5 169.4 60.0 166.2 63.0 162.5 70.0 160.0 80.0 156.9 71.2 156.9 70.6 154.4 80.0 152.5 82.5 151.9 81.2 148.8 90.0 145.6 97.5 143.8 107.5 142.1 115.0 143.8 120.0 144.4 128.8 145.0 132.5 146.9 145.0 145.0 150.0 144.0 157.0 144.6 168.4 148.9 178.2 149.6 189.5 148.2 198.0 149.6 203.7 146.8 207.9 141.8 210.7 144.6 212.1 150.3 209.3 156.0 200.8 158.8 192.0 164.7 188.0 170.0 189.3 174.0 196.0 177.3 203.3 179.3 202.7 184.7 204.7 188.7 208.0 184.7 208.7 180.7 216.0 178.0 218.0 173.3 217.3 167.3 222.7 162.7 230.7 162.7 234.7 166.0 236.0 171.3 244.0 167.3 246.7 176.7 252.7 182.0 254.0 186.7 250.7 188.7 244.0 190.0 236.0 192.7 225.3 194.7 218.7 199.3 224.0 196.0 232.0 194.7 230.7 198.0 233.3 200.7 239.3 201.3 236.0 204.7 230.7 207.3 226.0 208.7 228.0 205.3 224.7 204.0 220.0 206.0 216.0 211.3 206.7 216.7 200.0 220.7 198.7 224.7 199.3 230.0 196.0 232.0 192.0 236.0 188.0 238.0 184.0 243.0 183.0 250.0 182.0 255.0 179.0 248.0 174.0 246.0 167.0 244.0 156.0 245.0 150.0 247.0 147.0 251.0 143.0 260.0 143.8 271.2 148.8 274.4 153.8 271.2 158.8 267.5 164.4 266.2 166.9 266.9 164.4 273.8 163.1 276.9 162.5 280.0 172.5 281.2 173.0 284.4 170.6 290.0 171.2 293.0 175.0 297.5 178.8 299.4 182.5 298.0 185.0 301.2 177.5 302.5 174.4 300.6 171.9 298.8 166.2 295.6 165.6 293.0 160.0 287.5 156.2 285.0 152.5 283.0 147.5 281.2 140.0 280.6 130.0 273.0 125.0 268.0 123.0 254.0 116.0 243.0 110.0 240.0 113.0 248.0 116.0 260.0 115.0 262.0 110.0 250.0 107.0 240.0 106.0 237.0 100.0 232.0 99.0 219.0 102.0 202.0 112.5 200.0 115.0 195.6 113.1 193.1 108.8 191.2 111.9 188.8 111.2 183.8 113.8 178.8 111.2 176.2 112.5 172.5 111.9 168.1 108.0 168.8 103.8 166.9 98.8 167.5 93.8 166.0 87.5 166.2 81.0 168.8 70.0 173.0 55.0 178.0ZM242.7 197.3 249.3 191.3 252.7 194.0 255.3 198.0 253.3 200.7 249.3 199.3 245.3 198.7ZM159.2 141.1 167.0 136.2 178.2 136.9 192.4 139.0 195.2 143.2 188.1 146.1 178.2 145.4 168.4 144.0 159.9 141.8ZM176.0 130.0 184.0 129.0 191.0 130.5 186.0 134.0 178.0 134.8ZM219.0 130.5 230.0 131.0 237.5 133.0 230.0 135.5 221.0 134.0ZM193.8 127.5 201.5 127.0 199.0 129.8 195.0 129.5ZM205.0 131.0 212.0 130.5 216.0 132.5 210.0 134.8 206.0 134.0ZM208.0 126.5 215.0 126.3 213.0 128.4 209.0 128.0ZM198.7 138.5 204.0 137.6 208.0 139.0 203.0 141.8 199.5 141.0ZM196.6 145.0 200.0 144.0 202.2 146.0 198.0 147.5ZM209.3 136.5 215.0 136.0 217.8 138.0 212.0 139.7ZM216.4 141.8 223.4 137.6 234.7 136.9 241.8 139.7 248.8 143.2 251.7 147.5 255.9 152.4 248.8 155.2 246.0 154.5 247.4 160.2 241.8 161.6 234.7 157.4 227.0 157.4 224.8 155.2 231.9 153.1 223.4 150.3 216.4 148.9 215.0 144.6ZM224.8 124.9 234.7 122.8 248.8 120.6 262.0 119.5 277.0 119.8 267.0 122.6 254.5 125.8 245.9 129.6 240.0 131.4 234.7 132.0 229.0 130.5 224.8 128.0ZM210.7 157.4 215.0 154.5 220.0 158.0 216.4 160.2ZM321.0 154.0 327.0 152.5 336.8 152.5 339.0 155.5 334.5 157.8 326.2 159.2 322.5 157.0ZM185.0 273.8 190.0 274.0 189.0 275.6 185.5 275.2ZM193.8 271.0 198.0 270.0 203.0 272.0 207.5 273.0 201.0 275.6 196.0 274.0ZM180.0 255.0 183.0 256.0 182.0 257.0ZM187.0 256.0 189.0 257.0 188.5 260.6ZM9.0 269.5 11.5 270.5 10.5 273.0 8.5 272.5ZM2.0 264.0 3.0 264.3 2.5 265.5ZM5.0 266.0 9.0 267.0 8.5 268.0 5.0 267.0ZM170.0 296.0 177.5 302.8 184.2 301.2 189.5 294.5 198.5 290.8 199.2 295.2 200.0 296.0 204.5 293.8 213.5 296.0 221.0 294.5 222.5 301.2 228.5 304.2 233.0 307.2 238.2 308.0 243.5 311.0 246.5 317.8 251.0 323.0 260.0 327.5 269.0 330.5 276.5 333.5 281.8 337.2 282.5 342.5 279.5 347.0 275.0 356.0 274.2 365.0 272.5 370.0 270.8 376.7 268.3 381.7 260.0 385.0 255.0 390.0 254.2 396.7 250.0 403.3 246.7 410.0 241.7 413.3 236.7 412.5 240.0 417.5 238.3 422.5 231.7 425.0 230.0 429.2 227.5 433.3 226.7 438.3 225.0 443.3 229.2 448.3 227.5 455.0 228.3 458.3 236.7 465.0 231.7 466.7 223.3 464.2 216.7 460.0 211.7 453.3 209.2 445.0 208.3 436.7 207.5 430.0 205.0 420.0 205.0 403.3 204.2 395.0 203.3 380.0 202.5 370.0 203.8 369.5 195.5 365.0 188.0 359.0 184.2 350.0 179.0 342.5 175.2 335.0 177.5 329.0 176.8 323.0 180.5 318.5 183.5 309.5 184.2 303.0 178.0 304.0ZM351.9 228.9 347.0 226.1 342.7 226.8 343.4 219.8 343.8 210.5 344.5 209.0 361.0 208.2 361.0 207.5 359.5 202.2 353.5 197.0 359.5 195.5 367.0 191.0 371.5 185.0 376.0 182.0 378.2 180.5 378.2 175.5 381.9 173.6 383.8 180.2 391.4 181.1 396.1 181.1 402.6 180.2 402.6 175.5 405.5 173.6 406.4 171.7 407.3 168.9 413.9 168.9 415.8 167.5 409.2 167.5 404.5 167.9 400.8 164.2 401.7 160.4 406.4 155.2 404.5 154.3 400.8 155.2 397.0 159.5 394.2 163.2 396.1 167.0 395.1 170.8 393.2 175.5 391.4 179.2 387.6 178.3 385.7 175.5 383.8 170.8 381.9 169.8 377.2 172.2 372.5 169.8 372.1 163.2 379.1 157.6 383.8 153.8 387.6 149.1 396.1 144.4 404.5 142.5 413.9 143.9 421.5 146.3 430.9 150.0 432.7 151.9 427.0 153.0 421.5 152.9 426.2 157.1 432.7 155.2 436.5 148.2 440.3 149.1 442.4 150.5 448.9 148.6 456.5 146.7 464.0 145.8 471.5 146.7 478.1 147.6 472.5 140.1 477.2 138.2 482.8 141.0 488.5 147.6 489.4 152.3 485.6 147.6 483.8 140.1 490.4 138.2 497.9 134.5 512.9 130.7 520.5 129.8 535.5 132.6 537.4 135.4 548.7 137.3 558.8 136.8 571.2 140.3 578.2 142.0 588.8 140.3 603.0 141.2 617.0 143.0 629.4 144.7 645.3 145.6 648.8 147.4 655.9 145.6 666.5 148.2 677.1 156.2 685.9 162.4 678.8 163.2 673.5 167.6 666.5 168.5 664.7 171.2 673.5 178.2 675.3 188.8 668.2 185.3 659.4 176.5 659.4 165.9 655.9 162.4 648.8 165.9 647.1 170.3 633.0 170.3 625.9 172.1 624.1 180.0 631.2 181.8 638.2 183.5 645.3 194.1 646.2 203.0 645.6 205.0 642.5 210.6 639.4 218.0 640.5 220.5 643.1 227.5 643.8 231.2 639.4 232.5 636.2 228.8 634.4 223.1 630.0 223.8 627.5 220.0 620.0 216.9 615.0 221.2 620.0 224.4 625.6 225.6 623.1 231.2 627.5 235.0 632.5 241.9 633.8 247.5 630.0 256.2 622.5 263.8 620.2 264.3 614.3 266.1 608.5 266.1 605.0 267.8 603.8 272.5 607.3 277.2 611.4 280.7 613.2 286.5 613.2 291.2 609.7 294.7 605.0 299.3 603.8 294.7 601.5 293.5 598.0 290.0 595.1 288.8 592.8 287.7 591.6 291.2 590.4 295.3 589.8 299.3 592.8 302.8 596.8 305.2 600.3 309.8 602.1 315.7 603.3 319.2 599.8 318.0 595.7 313.3 593.3 308.7 589.8 304.0 588.7 300.5 589.8 293.5 589.3 288.8 586.3 283.0 582.5 280.5 578.2 280.7 577.0 273.7 572.3 265.5 570.0 262.0 568.2 263.2 563.0 265.5 557.0 273.0 548.0 282.0 546.5 288.0 543.5 301.5 540.5 298.5 536.0 288.0 531.5 279.0 527.0 270.0 525.5 268.5 522.0 266.0 519.0 267.0 515.5 264.0 516.0 261.0 513.0 259.5 509.0 258.0 503.1 256.5 489.3 252.2 483.0 251.2 476.6 249.1 471.3 244.8 469.7 245.4 475.5 252.2 477.1 254.9 478.2 258.1 483.0 259.1 486.1 256.5 488.8 254.4 489.8 257.5 493.5 260.7 497.8 263.9 494.6 270.2 489.3 274.5 483.0 278.7 476.6 283.0 469.2 286.1 461.8 288.8 460.2 282.9 455.4 274.5 450.1 266.0 446.9 259.7 442.7 252.2 440.0 248.5 437.9 249.1 435.3 245.4 438.0 241.1 439.5 239.2 439.9 234.5 440.9 228.9 439.9 227.0 433.3 227.5 427.7 227.0 423.9 226.1 421.6 223.2 421.1 220.4 419.2 217.6 420.2 215.2 418.3 215.7 413.6 216.6 412.6 219.5 414.5 223.2 411.3 226.8 409.1 223.1 407.5 220.4 405.4 218.3 404.3 215.1 402.2 211.9 399.0 210.3 395.3 207.6 392.6 203.9 391.0 203.9 389.4 204.4 391.0 207.6 394.2 210.8 397.4 214.0 401.7 217.2 401.1 218.3 398.5 218.3 399.5 219.9 398.5 220.9 396.9 222.5 397.4 220.4 396.3 218.8 393.7 217.2 390.5 215.1 387.3 212.4 384.6 209.2 383.0 207.6 380.3 207.3 377.3 209.9 371.0 210.6 366.7 214.1 363.9 219.1 359.7 226.1ZM352.5 172.0 356.2 171.2 357.8 178.0 361.5 182.5 366.0 187.0 365.2 190.0 360.0 190.8 352.5 192.2 356.2 188.5 356.2 184.0 353.2 181.0 351.0 176.5ZM345.0 182.5 349.5 179.5 351.8 181.0 350.2 186.2 344.2 187.8 343.5 185.5ZM378.0 125.5 390.0 124.0 402.0 124.8 396.0 127.0 387.0 130.0 382.5 128.5ZM393.8 127.8 399.8 128.0 398.0 129.2ZM447.0 140.1 452.7 134.5 466.8 130.7 462.1 133.5 454.6 136.3 452.7 140.1 456.5 143.0 449.0 143.0ZM493.0 122.5 500.0 123.0 509.0 126.0 503.0 127.0 495.0 124.5ZM510.0 126.0 518.0 127.0 515.0 128.0ZM426.0 123.0 436.0 123.5 431.0 124.5ZM573.8 131.5 585.0 132.5 596.8 134.0 590.0 135.0 578.0 133.5ZM585.0 136.8 591.5 137.2 588.0 138.5ZM639.1 181.8 648.8 190.6 656.8 202.0 652.4 197.7 643.5 188.8ZM380.5 215.0 384.0 215.2 384.0 220.4 380.6 220.0ZM381.2 210.3 383.0 210.5 382.8 214.0 381.0 213.6ZM390.0 223.2 396.3 223.0 395.8 226.3 391.5 225.3ZM414.7 229.2 420.4 228.9 420.0 230.8 415.0 231.1ZM433.0 231.0 437.5 230.8 436.0 232.2 433.5 232.2ZM633.8 257.5 636.2 256.2 636.9 260.6 635.6 264.4 633.8 261.2ZM609.7 271.3 614.3 270.2 613.8 273.7 610.8 274.8ZM435.3 245.4 438.0 241.1 436.2 241.1 429.6 240.2 424.0 239.2 417.4 237.8 405.1 241.1 399.5 238.3 396.6 234.5 388.2 232.6 386.3 227.0 384.4 225.1 380.6 226.1 375.0 226.1 365.5 227.0 358.5 226.8 349.8 229.4 344.5 235.5 341.0 240.8 334.9 249.5 327.0 263.5 325.2 267.0 327.0 275.8 323.5 282.8 325.2 289.8 330.5 295.0 334.0 298.5 339.2 303.8 346.2 310.8 355.0 309.0 365.5 307.2 377.8 309.0 384.8 314.2 383.0 324.0 389.0 332.0 391.0 337.0 392.0 348.0 390.0 364.0 394.0 374.0 398.0 386.0 400.0 398.0 403.0 409.0 405.0 413.0 416.0 411.0 426.0 407.0 434.0 396.0 437.0 388.0 442.0 380.0 446.0 374.0 454.0 364.0 456.0 350.0 453.0 340.0 454.0 332.0 458.0 324.0 464.0 318.0 472.0 308.0 478.0 300.0 480.0 291.2 474.0 293.0 466.0 293.0 460.7 287.2 455.4 279.8 450.1 272.4 445.9 263.9 441.6 256.0 438.0 249.6ZM582.2 308.3 586.3 308.3 591.3 313.3 595.5 317.5 602.2 322.5 603.8 325.8 607.2 330.0 607.2 335.0 606.3 337.5 602.2 335.0 598.0 330.0 594.7 325.0 591.3 320.0 588.8 315.0 584.7 310.8ZM606.3 338.3 613.0 339.2 618.8 340.0 624.7 342.5 628.8 344.2 624.7 345.0 617.2 343.3 609.7 341.7ZM631.0 344.5 638.0 344.0 637.0 345.5 631.0 346.0ZM639.0 344.5 646.0 344.0 645.0 346.0 639.0 346.2ZM647.5 348.0 652.0 345.5 655.8 344.0 653.0 347.0 648.0 349.0ZM614.7 317.9 617.2 317.5 621.3 315.0 625.5 312.5 628.8 310.0 632.2 304.6 636.3 308.3 634.7 313.3 637.2 320.0 632.2 325.0 630.5 332.5 624.7 331.7 619.7 330.8 616.3 327.5 614.7 322.5ZM638.0 330.0 639.5 321.5 643.8 319.4 651.7 318.3 649.1 321.0 641.6 325.7 646.9 324.6 642.7 328.9 645.9 333.1 646.4 336.8 642.7 335.2 640.1 331.0 639.0 336.8 637.4 332.1ZM657.0 317.2 659.7 318.5 658.5 324.6 657.5 321.0ZM636.8 274.1 641.8 276.6 640.9 283.2 645.9 286.5 649.2 291.4 644.2 288.9 638.5 285.6 637.6 279.9ZM645.0 301.3 650.8 298.0 654.1 302.9 651.6 307.9 647.5 304.6ZM642.6 292.0 648.0 293.0 650.8 297.0 645.0 298.8ZM632.7 299.6 637.6 293.9 638.0 295.0 633.5 300.5ZM664.4 325.2 668.1 323.6 672.4 325.7 672.9 328.9 674.5 330.0 679.8 327.3 687.2 328.9 695.7 332.1 699.9 336.3 703.1 339.0 702.0 341.6 704.1 345.8 708.9 350.1 704.1 349.0 697.8 344.8 693.5 343.7 690.4 345.8 686.1 345.8 684.0 342.7 679.8 343.7 681.9 339.5 677.7 335.2 672.4 332.1 669.2 329.9 666.0 327.8ZM705.2 337.4 711.5 335.2 713.7 331.5 715.8 334.2 712.6 337.4 707.3 339.0ZM719.0 336.0 721.0 337.0 722.5 340.6 720.5 339.5ZM620.0 380.0 626.7 375.8 636.7 372.5 641.7 366.7 650.0 360.0 655.0 359.2 658.3 360.8 663.3 355.0 666.7 351.7 676.7 355.0 673.3 361.7 681.7 368.3 685.0 363.3 690.0 350.8 693.3 360.0 695.0 370.0 701.7 378.3 705.8 390.0 703.3 401.7 693.3 413.3 680.0 421.7 670.0 423.3 665.0 420.0 663.3 414.2 660.0 411.7 658.3 408.3 650.0 405.8 640.0 406.7 631.7 409.2 621.7 411.7 614.2 411.7 616.7 406.7 616.7 398.3 616.7 390.0 618.3 383.3ZM667.5 429.2 676.7 429.2 673.3 433.3 668.3 436.7ZM739.8 413.2 742.0 418.6 746.3 421.8 736.6 427.3 732.3 430.5 733.3 426.2 738.8 421.8 739.4 417.5ZM730.0 428.4 731.2 431.6 722.5 435.9 713.8 441.3 706.3 443.5 707.3 440.3 718.2 434.9 727.9 429.4ZM734.4 375.3 736.0 376.0 739.8 380.7 738.0 380.5ZM743.0 361.0 744.5 362.0 745.0 365.5 743.5 364.0ZM765.8 368.0 768.0 366.5 769.0 368.5 766.5 369.8ZM770.0 366.0 773.4 365.0 772.0 367.0ZM196.6 131.2 200.8 131.5 199.0 134.0 197.0 133.5ZM216.4 127.0 222.0 127.5 220.0 129.8 217.0 129.2ZM211.0 160.5 215.0 160.5 214.0 162.5 211.5 162.0ZM653.3 330.5 658.0 330.0 665.0 332.6 660.0 332.4 654.0 331.8ZM651.0 330.5 653.0 330.2 652.5 332.0ZM229.2 308.8 234.5 307.2 238.2 308.0 237.5 311.0 233.8 317.8 231.5 316.2 230.0 313.2ZM655.6 204.4 660.0 206.9 666.2 208.1 665.0 210.6 661.9 211.2 658.8 213.8 656.9 211.2 656.2 207.5ZM659.4 215.0 663.8 216.2 665.6 221.2 667.5 227.5 666.9 231.2 663.8 231.9 660.6 232.5 657.5 233.8 655.0 232.5 651.2 233.8 648.8 236.2 647.5 235.0 650.0 231.2 656.2 228.8 658.8 226.2 661.2 222.5 660.6 218.8ZM647.5 236.2 651.2 237.5 651.9 240.6 650.6 241.9 648.1 239.4ZM546.5 297.0 549.5 300.0 551.0 304.5 548.0 306.8 545.8 301.5ZM476.0 354.0 479.0 362.0 474.0 376.0 468.0 388.0 462.0 388.0 461.0 380.0 464.0 368.0 471.0 360.0ZM651.0 346.0 655.8 344.0 653.5 346.8 651.5 347.5ZM723.0 341.0 727.0 343.0 726.5 344.0ZM728.0 344.0 734.0 347.0 735.5 350.3 731.0 348.0ZM726.0 346.0 730.0 348.5 729.0 349.0ZM634.4 223.1 640.5 220.5 643.1 227.5 643.8 231.2 639.4 232.5 636.2 228.8ZM652.5 235.2 657.5 234.8 656.5 236.5 653.0 236.4Z"/>
<path fill="#fff" stroke="#7d8a74" stroke-width="0.55" d="M422.0 211.5 424.1 205.7 426.5 202.0 430.7 202.8 432.7 204.9 434.8 204.5 438.9 204.1 441.4 205.7 446.3 209.4 449.6 212.3 448.0 214.8 443.0 214.4 436.4 213.1 429.8 212.7 424.9 214.4 422.4 213.5ZM435.2 202.0 440.5 200.8 439.7 203.2 436.0 203.7ZM460.3 204.9 464.4 201.6 471.0 201.2 471.9 204.1 468.6 205.7 469.4 208.2 474.3 213.1 476.8 214.0 475.2 216.4 477.6 218.9 478.4 223.0 476.8 225.9 471.9 225.5 468.6 223.0 467.7 217.2 466.1 214.0 462.0 209.0Z"/>
</g>
<!-- legend -->
<g id="legend">
<rect x="240.5" y="517" width="48" height="11" fill="url(#hatch)" stroke="#d4d4d4" stroke-width="1"/>
<line x1="264.5" y1="513.5" x2="264.5" y2="517" stroke="#aaa" stroke-width="1"/>
<rect x="308" y="517" width="150.5" height="11" fill="#e8a2c7" stroke="#d393b5" stroke-width="0.5"/>
<path d="M458.5 517 H604 L609.5 522.5 L604 528 H458.5 Z" fill="#a1d46c" stroke="#93c462" stroke-width="0.5"/>
<line x1="383.5" y1="500" x2="383.5" y2="517" stroke="#a0a0a0" stroke-width="1"/>
<line x1="533.5" y1="512" x2="533.5" y2="517" stroke="#a0a0a0" stroke-width="1"/>
<line x1="458.5" y1="517" x2="458.5" y2="528" stroke="#6a6a6a" stroke-width="1"/>
</g>
</svg>
<div class="t leg" style="left:241px;top:498px">No data</div>
<div class="t leg" style="left:311px;top:483.8px">Below dietary guidelines</div>
<div class="t leg" style="left:461px;top:498px">Meets dietary guidelines</div>

<div class="t foot" style="left:16px;top:549.1px"><b>Data source:</b> Food and Agriculture Organization of the United Nations (2025)</div>
<div class="t foot" style="right:19px;top:549.1px;letter-spacing:0.07px">OurWorldinData.org/diet-compositions | CC BY</div>
<div class="t foot" style="left:16px;top:569.1px"><b>Note:</b> Figures represent average per capita supply of fruit, which does not correct for waste at the household level.</div>
</body></html>
